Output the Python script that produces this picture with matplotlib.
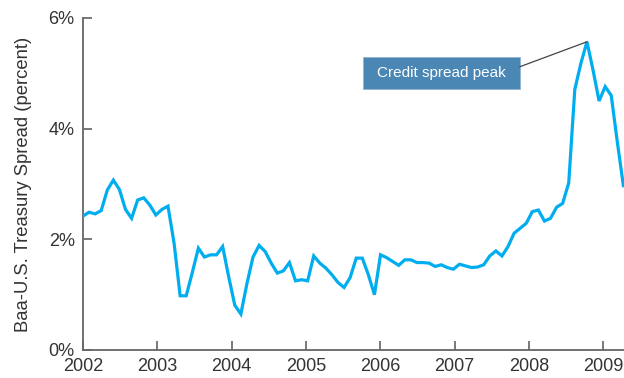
import numpy as np
import matplotlib
matplotlib.use("Agg")
import matplotlib.pyplot as plt
from matplotlib.patches import Rectangle

plt.rcParams['font.family'] = ['Liberation Sans', 'DejaVu Sans']

# ---- data ----
start_year = 2002.0
end_year = 2009.27
spread = [
    2.42, 2.49, 2.46, 2.52, 2.89, 3.07, 2.90, 2.54, 2.38, 2.71, 2.75, 2.62,
    2.44, 2.54, 2.60, 1.93, 0.98, 0.98, 1.40, 1.84, 1.68, 1.72, 1.72, 1.87,
    1.32, 0.81, 0.65, 1.20, 1.68, 1.89, 1.78, 1.57, 1.39, 1.43, 1.58, 1.25,
    1.27, 1.25, 1.70, 1.57, 1.48, 1.36, 1.22, 1.13, 1.31, 1.66, 1.66, 1.36,
    1.00, 1.72, 1.67, 1.60, 1.53, 1.63, 1.63, 1.58, 1.58, 1.57, 1.51, 1.54,
    1.49, 1.46, 1.55, 1.52, 1.49, 1.50, 1.54, 1.70, 1.79, 1.70, 1.87, 2.11,
    2.20, 2.29, 2.50, 2.53, 2.33, 2.38, 2.58, 2.65, 3.02, 4.71, 5.18, 5.57,
    5.06, 4.50, 4.76, 4.60, 3.76, 2.97,
]
year_ticks = [2002, 2003, 2004, 2005, 2006, 2007, 2008, 2009]
year_labels = ['2002', '2003', '2004', '2005', '2006', '2007', '2008', '2009']
pct_ticks = [0, 2, 4, 6]
pct_labels = ['0%', '2%', '4%', '6%']
annotation_text = 'Credit spread peak'
ylabel_text = 'Baa-U.S. Treasury Spread (percent)'

x = np.linspace(start_year, end_year, len(spread))
peak_i = int(np.argmax(spread))

fig = plt.figure(figsize=(6.24, 3.78), dpi=100)
ax = fig.add_axes([83/624, 28/378, 541/624, 332/378])

ax.plot(x, spread, color='#00AEEF', lw=2.3, solid_joinstyle='miter', zorder=3)

ax.set_xlim(2002.0, 2002.0 + 541/74.33)
ax.set_ylim(0, 6)
ax.set_xticks(year_ticks)
ax.set_xticklabels(year_labels)
ax.set_yticks(pct_ticks)
ax.set_yticklabels(pct_labels)

for s in ['top', 'right']:
    ax.spines[s].set_visible(False)
for s in ['left', 'bottom']:
    ax.spines[s].set_color('#666666')
    ax.spines[s].set_linewidth(1.3)

ax.tick_params(axis='both', direction='in', length=6.5, width=1.1,
               color='#555555', labelsize=13, labelcolor='#333333')
ax.tick_params(axis='x', pad=6)
ax.tick_params(axis='y', pad=6)

ax.set_ylabel(ylabel_text, fontsize=13.3, color='#333333')
ax.yaxis.set_label_coords(-0.095, 0.5)

# annotation box
bx0 = 2002 + (362.5 - 83) / 74.33
bx1 = 2002 + (520 - 83) / 74.33
by0 = (350 - 89) / 55.33
by1 = (350 - 56.7) / 55.33
ax.add_patch(Rectangle((bx0, by0), bx1 - bx0, by1 - by0, facecolor='#4A87B5',
                       edgecolor='#8fb4d2', lw=0.6, zorder=4, clip_on=False))
ax.text((bx0 + bx1) / 2, (by0 + by1) / 2, annotation_text, color='white',
        fontsize=11, ha='center', va='center', zorder=5)
ax.plot([bx1, x[peak_i]], [(350 - 66.7) / 55.33, spread[peak_i]],
        color='#444444', lw=0.9, zorder=4, clip_on=False)

fig.savefig('out.png', dpi=100)
